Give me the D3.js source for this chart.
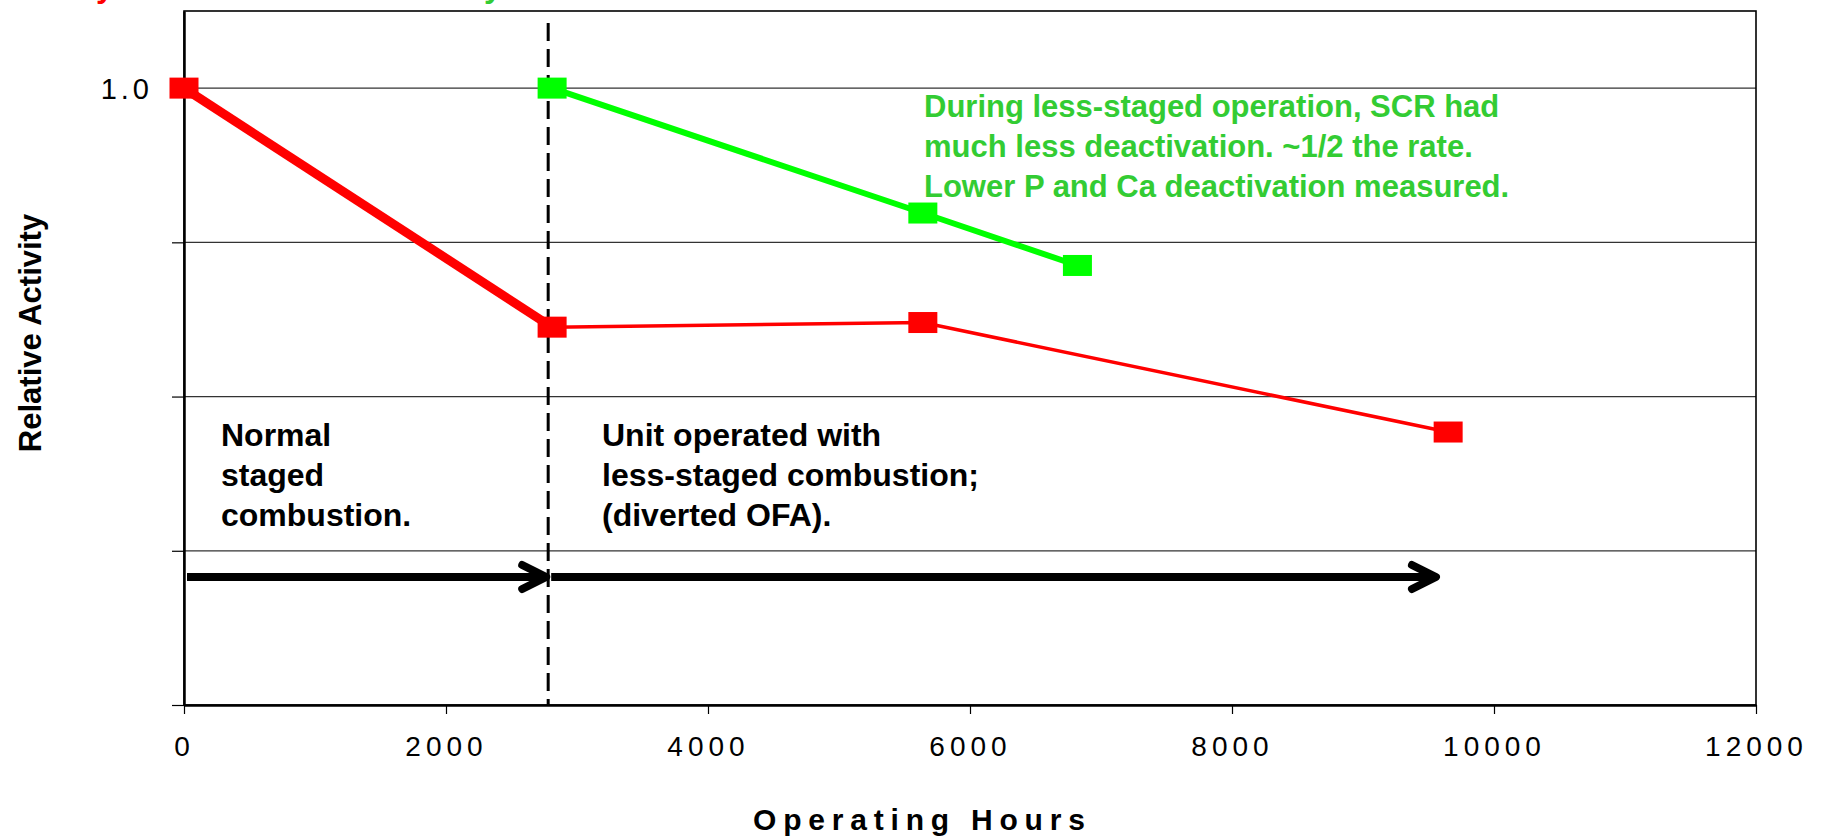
<!DOCTYPE html>
<html>
<head>
<meta charset="utf-8">
<script src="https://cdn.jsdelivr.net/npm/d3@7/dist/d3.min.js"></script>
<style>
  html, body { margin: 0; padding: 0; background: #ffffff; }
  svg { display: block; font-family: "Liberation Sans", Arial, sans-serif; }
</style>
</head>
<body>
<svg id="chart" width="1822" height="838"></svg>
<script>
// ---- data ----
const redHours = [0, 2810, 5640, 9650];
const redActivity = [1.0, 0.845, 0.848, 0.777];
const greenHours = [2810, 5640, 6820];
const greenActivity = [1.0, 0.919, 0.885];
const xTicks = [0, 2000, 4000, 6000, 8000, 10000, 12000];
const yTicks = [0.6, 0.7, 0.8, 0.9, 1.0];
const yTickLabels = ["", "", "", "", "1.0"];
const changeoverHours = [2780];
const arrowStartHours = [0, 2780];
const arrowEndHours = [2765, 9557];
const arrowLevel = [0.683];
const leftNote = ["Normal", "staged", "combustion."];
const rightNote = ["Unit operated with", "less-staged combustion;", "(diverted OFA)."];
const greenNote = ["During less-staged operation, SCR had", "much less deactivation. ~1/2 the rate.", "Lower P and Ca deactivation measured."];
const xTitle = "Operating Hours";
const yTitle = "Relative Activity";

// ---- layout ----
const W = 1822, H = 838;
const L = 184, R = 1756, T = 11, B = 705;
const svg = d3.select("#chart");
const x = d3.scaleLinear().domain([0, 12000]).range([L, R]);
const y = d3.scaleLinear().domain([0.6, 1.05]).range([B, T]);

// cut-off title fragments at top edge (as in the reference)
svg.append("text").attr("x", 96).attr("y", -3).attr("fill", "#ff0000")
  .attr("font-size", 32).attr("font-weight", "bold").text("y");
svg.append("text").attr("x", 484).attr("y", -3).attr("fill", "#33cc33")
  .attr("font-size", 32).attr("font-weight", "bold").text("y");

// gridlines
svg.append("g").selectAll("line").data(yTicks.filter(d => d > 0.6)).join("line")
  .attr("x1", L).attr("x2", R).attr("y1", d => y(d)).attr("y2", d => y(d))
  .attr("stroke", "#333").attr("stroke-width", 1.2);

// plot frame
svg.append("rect").attr("x", L).attr("y", T).attr("width", R - L).attr("height", B - T)
  .attr("fill", "none").attr("stroke", "#000").attr("stroke-width", 1.6);

// axes
const yAxis = d3.axisLeft(y).tickValues(yTicks).tickSize(12).tickSizeOuter(0)
  .tickFormat((d, i) => yTickLabels[i]);
const gy = svg.append("g").attr("transform", `translate(${L},0)`).call(yAxis);
gy.select(".domain").attr("stroke", "#000").attr("stroke-width", 2.5);
gy.selectAll(".tick line").attr("stroke", "#000").attr("stroke-width", 1.2);
gy.selectAll(".tick text").attr("font-size", 29).attr("fill", "#000")
  .attr("letter-spacing", 4).attr("x", -31).attr("dy", "0.36em")
  .attr("font-family", "'Liberation Sans', Arial, sans-serif");

const xAxis = d3.axisBottom(x).tickValues(xTicks).tickSize(9).tickSizeOuter(0)
  .tickFormat(d3.format("d"));
const gx = svg.append("g").attr("transform", `translate(0,${B})`).call(xAxis);
gx.select(".domain").attr("stroke", "#000").attr("stroke-width", 2.5);
gx.selectAll(".tick line").attr("stroke", "#000").attr("stroke-width", 1.2);
gx.selectAll(".tick text").attr("font-size", 28).attr("fill", "#000")
  .attr("letter-spacing", 5).attr("y", 31).attr("dy", "0.71em")
  .attr("font-family", "'Liberation Sans', Arial, sans-serif");

// dashed changeover line
svg.append("g").selectAll("line").data(changeoverHours).join("line")
  .attr("x1", d => x(d)).attr("x2", d => x(d)).attr("y1", T + 12).attr("y2", B)
  .attr("stroke", "#000").attr("stroke-width", 3).attr("stroke-dasharray", "18,8");

// arrows
const arrows = arrowStartHours.map((s, i) => ({ s, e: arrowEndHours[i], v: arrowLevel[0] }));
const ga = svg.append("g").attr("stroke", "#000").attr("fill", "none")
  .attr("stroke-linecap", "round").attr("stroke-linejoin", "round");
ga.selectAll("line.shaft").data(arrows).join("line").attr("class", "shaft")
  .attr("x1", d => x(d.s) + 3).attr("x2", d => x(d.e) - 3)
  .attr("y1", d => y(d.v)).attr("y2", d => y(d.v))
  .attr("stroke-width", 8).attr("stroke-linecap", "butt");
ga.selectAll("path.head").data(arrows).join("path").attr("class", "head")
  .attr("d", d => {
    const tx = x(d.e), ty = y(d.v);
    return `M${tx - 24},${ty - 12} L${tx},${ty} L${tx - 24},${ty + 12}`;
  })
  .attr("stroke-width", 8);

// series
const line = d3.line().x(d => x(d[0])).y(d => y(d[1]));
const redPts = redHours.map((h, i) => [h, redActivity[i]]);
const greenPts = greenHours.map((h, i) => [h, greenActivity[i]]);

svg.append("path").datum(redPts).attr("d", line)
  .attr("fill", "none").attr("stroke", "#ff0000").attr("stroke-width", 3.5);
svg.append("path").datum(redPts.slice(0, 2)).attr("d", line)
  .attr("fill", "none").attr("stroke", "#ff0000").attr("stroke-width", 9);
svg.append("path").datum(greenPts).attr("d", line)
  .attr("fill", "none").attr("stroke", "#00ff00").attr("stroke-width", 6);

const mw = 29, mh = 21;
svg.append("g").selectAll("rect").data(redPts).join("rect")
  .attr("x", d => x(d[0]) - mw / 2).attr("y", d => y(d[1]) - mh / 2)
  .attr("width", mw).attr("height", mh).attr("fill", "#ff0000");
svg.append("g").selectAll("rect").data(greenPts).join("rect")
  .attr("x", d => x(d[0]) - mw / 2).attr("y", d => y(d[1]) - mh / 2)
  .attr("width", mw).attr("height", mh).attr("fill", "#00ff00");

// annotations
function note(lines, px, py, color, size, gap) {
  const t = svg.append("text").attr("x", px).attr("y", py)
    .attr("fill", color).attr("font-size", size).attr("font-weight", "bold");
  t.selectAll("tspan").data(lines).join("tspan")
    .attr("x", px).attr("dy", (d, i) => i === 0 ? 0 : gap).text(d => d);
}
note(leftNote, 221, 446, "#000", 32, 40);
note(rightNote, 602, 446, "#000", 32, 40);
note(greenNote, 924, 117, "#33cc33", 31, 40);

// axis titles
svg.append("text").attr("x", 753).attr("y", 830)
  .attr("font-size", 30).attr("font-weight", "bold").attr("letter-spacing", 6.8)
  .attr("fill", "#000").text(xTitle);
svg.append("text").attr("transform", "translate(41,333) rotate(-90)")
  .attr("text-anchor", "middle").attr("font-size", 31).attr("font-weight", "bold")
  .attr("fill", "#000").text(yTitle);
</script>
</body>
</html>
